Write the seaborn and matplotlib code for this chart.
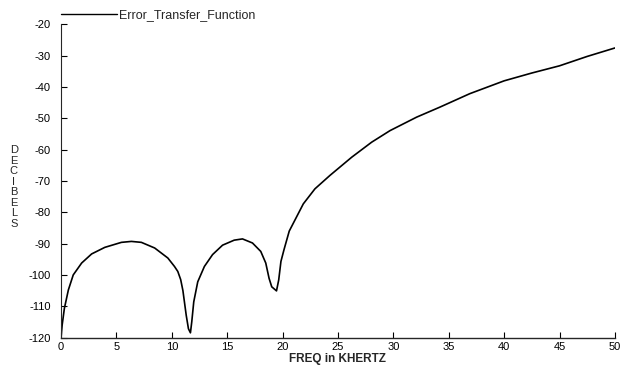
import matplotlib
matplotlib.use("Agg")
import matplotlib.pyplot as plt
import seaborn as sns
import pandas as pd

# значения (кГц, дБ)
freq_khz = [0, 0.1, 0.3, 0.66, 1.1, 1.86, 2.76, 3.95, 5.45, 6.35, 7.25, 8.45,
            9.64, 10.24, 10.54, 10.8, 11.0, 11.3, 11.5, 11.68, 11.8, 11.98,
            12.34, 12.94, 13.68, 14.58, 15.63, 16.38, 17.28, 18.03, 18.48,
            18.78, 19.02, 19.45, 19.65, 19.85, 20.13, 20.6, 21.87, 22.92,
            24.28, 26.24, 28.04, 29.7, 32.1, 34.2, 36.9, 40, 42.5, 45, 47.5, 50]
decibels = [-120, -116, -110.7, -104.8, -100, -96.2, -93.3, -91.2, -89.6, -89.3,
            -89.6, -91.4, -94.6, -97.3, -98.9, -101.5, -105, -112.9, -117.2,
            -118.5, -115, -108.6, -102.2, -97.3, -93.5, -90.5, -88.9, -88.5,
            -89.8, -92.5, -96.2, -101.1, -103.8, -105.1, -101.6, -95.7, -91.9,
            -86, -77.3, -72.5, -68.2, -62.4, -57.6, -53.9, -49.6, -46.4, -42.1,
            -38, -35.5, -33.2, -30.2, -27.5]
series_name = "Error_Transfer_Function"
x_ticks = [0, 5, 10, 15, 20, 25, 30, 35, 40, 45, 50]
y_ticks = [-20, -30, -40, -50, -60, -70, -80, -90, -100, -110, -120]

df = pd.DataFrame({"freq": freq_khz, "db": decibels, "series": series_name})

sns.set_style("ticks")
plt.rcParams["font.family"] = ["Liberation Sans", "DejaVu Sans"]
plt.rcParams["axes.unicode_minus"] = False

fig = plt.figure(figsize=(6.23, 3.65), dpi=100)
ax = fig.add_axes([0.098, 0.0753, 0.889, 0.8576])

sns.lineplot(data=df, x="freq", y="db", hue="series", palette=["black"],
             linewidth=1.2, ax=ax, estimator=None, sort=False)

ax.set_xlim(0, 50)
ax.set_ylim(-120, -20)
ax.set_xticks(x_ticks)
ax.set_yticks(y_ticks)
ax.tick_params(axis="both", direction="in", length=4, width=0.8,
               labelsize=8, colors="black")
ax.tick_params(axis="y", pad=7.5)
ax.tick_params(axis="x", pad=3)

sns.despine(ax=ax)
ax.spines["left"].set_linewidth(0.8)
ax.spines["bottom"].set_linewidth(1.0)

ax.set_xlabel("FREQ in KHERTZ", fontsize=8.5, fontweight="bold", labelpad=1)
ax.set_ylabel("")
fig.text(0.022, 0.488, "D\nE\nC\nI\nB\nE\nL\nS", ha="center", va="center",
         fontsize=8, linespacing=1.06)

leg = ax.legend(loc="lower left", bbox_to_anchor=(-0.001, 1.01), frameon=False,
                handlelength=4.5, handletextpad=0.15, fontsize=9, borderaxespad=0,
                borderpad=0)
for line in leg.get_lines():
    line.set_linewidth(1.0)

fig.savefig("out.png", dpi=100)
plt.close(fig)
